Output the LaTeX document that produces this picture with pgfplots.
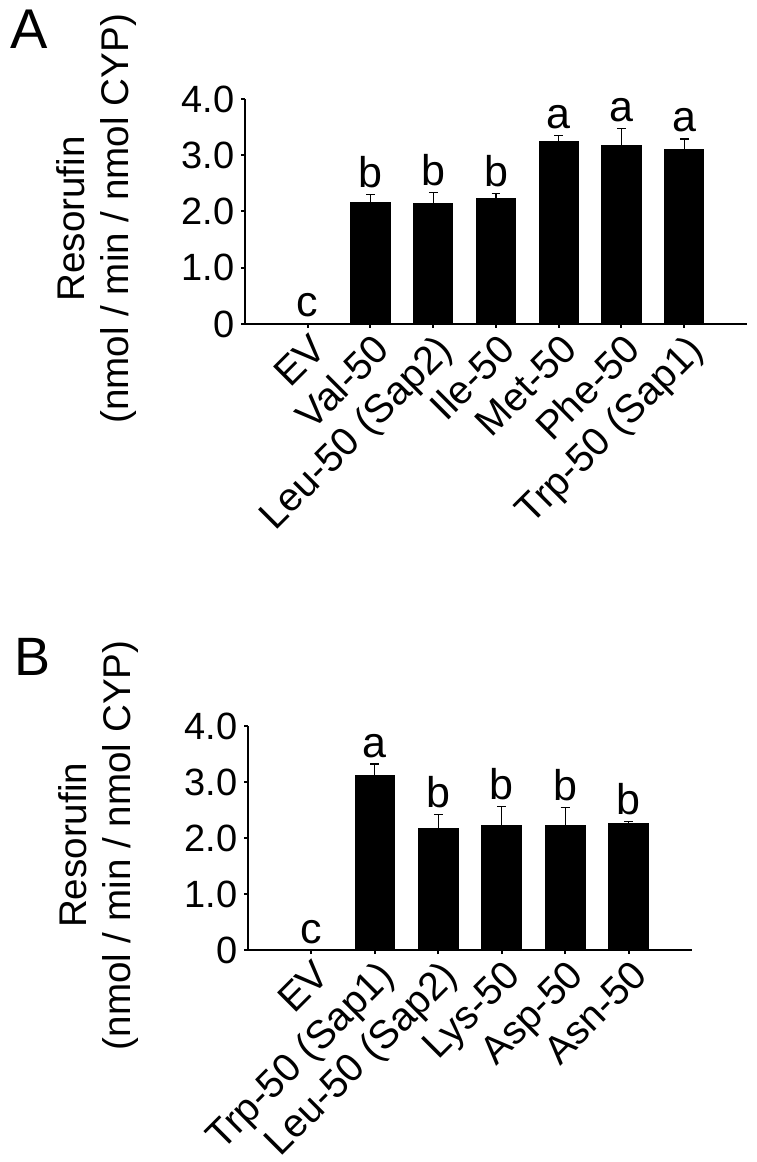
\documentclass[border=0pt]{standalone}
\usepackage{pgfplots}
\pgfplotsset{compat=1.18}
\usepackage{pgfplotstable}
\usepackage{fontspec}
\setmainfont{Liberation Sans}

\pgfplotstableread{
x y err
1 2.16 0.14
2 2.14 0.20
3 2.23 0.09
4 3.25 0.10
5 3.18 0.30
6 3.11 0.18
}\barsA
\pgfplotstableread{
x top lab
0 0 c
1 2.30 b
2 2.34 b
3 2.32 b
4 3.35 a
5 3.48 a
6 3.29 a
}\labA
\pgfplotstableread{
x y err
1 3.12 0.20
2 2.17 0.25
3 2.22 0.34
4 2.22 0.33
5 2.26 0.04
}\barsB
\pgfplotstableread{
x top lab
0 0 c
1 3.32 a
2 2.42 b
3 2.56 b
4 2.55 b
5 2.30 b
}\labB

\pgfplotsset{
  panel/.style={
    scale only axis,
    axis lines=left,
    axis line style={-, line width=1.3pt, black},
    ymin=0, ymax=4,
    ytick={0,1,2,3,4},
    yticklabels={0,1.0,2.0,3.0,4.0},
    xmin=-1,
    tick style={black, line width=1pt},
    major tick length=2pt,
    tick align=outside,
    x tick label style={rotate=45, anchor=north east, inner sep=1pt, yshift=-0.5pt, font=\fontsize{19.8}{19.8}\selectfont},
    y tick label style={font=\fontsize{19}{19}\selectfont, inner sep=2pt, xshift=-1pt},
    ylabel={Resorufin\\(nmol / min / nmol CYP)},
    ylabel style={align=center, font=\fontsize{19.3}{22}\selectfont, anchor=south, inner sep=0pt},
    clip=false,
  },
  barstyle/.style={
    ybar, fill=black, draw=black, bar width=0.625, bar shift=0pt,
    error bars/.cd, y dir=plus, y explicit,
    error bar style={line width=0.6pt, black},
    error mark options={rotate=90, mark size=2.2pt, line width=0.6pt, black},
  },
  labstyle/.style={
    draw=none, mark=none, nodes near coords, point meta=explicit symbolic,
    every node near coord/.append style={anchor=base, yshift=3.5pt, inner sep=0pt, font=\fontsize{21.5}{21.5}\selectfont, black},
  },
}

\begin{document}
\begin{tikzpicture}
\path[use as bounding box] (0,0) rectangle (378pt,581pt);
\node[anchor=north west, inner sep=0pt, font=\fontsize{28}{28}\selectfont] at (5pt,576pt) {A};
\node[anchor=north west, inner sep=0pt, font=\fontsize{27}{27}\selectfont] at (7pt,262pt) {B};

\begin{axis}[panel, at={(122.5pt,419pt)}, anchor=south west,
  width=251pt, height=112.5pt, xmax=7,
  xtick={0,...,6},
  xticklabels={EV, Val-50, Leu-50 (Sap2), Ile-50, Met-50, Phe-50, Trp-50 (Sap1)},
  ylabel style={at={(axis description cs:-0.215,0.467)}},
]
\addplot[barstyle] table[x=x, y=y, y error=err] {\barsA};
\addplot[labstyle] table[x=x, y=top, meta=lab] {\labA};
\end{axis}

\begin{axis}[panel, at={(124pt,106pt)}, anchor=south west,
  width=222pt, height=112pt, xmax=6,
  xtick={0,...,5},
  xticklabels={EV, Trp-50 (Sap1), Leu-50 (Sap2), Lys-50, Asp-50, Asn-50},
  ylabel style={at={(axis description cs:-0.245,0.467)}},
]
\addplot[barstyle] table[x=x, y=y, y error=err] {\barsB};
\addplot[labstyle] table[x=x, y=top, meta=lab] {\labB};
\end{axis}
\end{tikzpicture}
\end{document}
